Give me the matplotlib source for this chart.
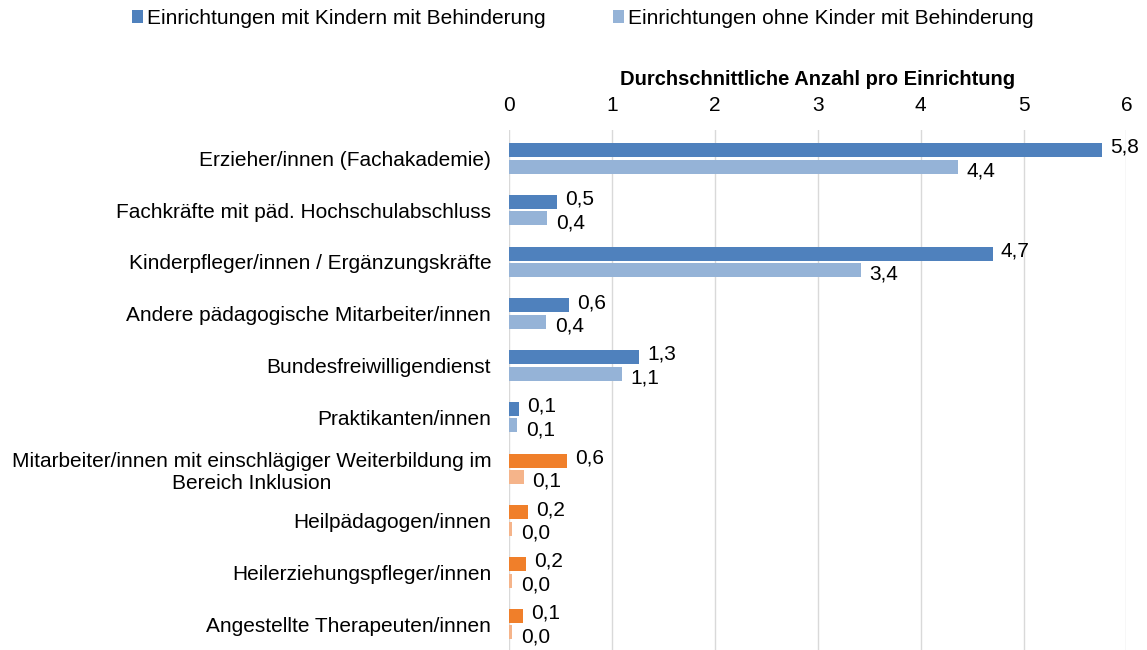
import numpy as np
import matplotlib
matplotlib.use("Agg")
import matplotlib.pyplot as plt

plt.rcParams['font.family'] = ['Liberation Sans', 'DejaVu Sans']

# ----- Daten -----
kategorien = [
    "Erzieher/innen (Fachakademie)",
    "Fachkräfte mit päd. Hochschulabschluss",
    "Kinderpfleger/innen / Ergänzungskräfte",
    "Andere pädagogische Mitarbeiter/innen",
    "Bundesfreiwilligendienst",
    "Praktikanten/innen",
    "Mitarbeiter/innen mit einschlägiger Weiterbildung im\nBereich Inklusion",
    "Heilpädagogen/innen",
    "Heilerziehungspfleger/innen",
    "Angestellte Therapeuten/innen",
]
mit_behinderung = [5.76, 0.46, 4.70, 0.58, 1.26, 0.09, 0.56, 0.18, 0.16, 0.13]
ohne_behinderung = [4.36, 0.37, 3.42, 0.36, 1.10, 0.08, 0.14, 0.03, 0.03, 0.03]
anzahl_blau = 6  # die ersten 6 Kategorien blau, der Rest orange

serien_namen = ["Einrichtungen mit Kindern mit Behinderung",
                "Einrichtungen ohne Kinder mit Behinderung"]
x_ticks = [0, 1, 2, 3, 4, 5, 6]
x_titel = "Durchschnittliche Anzahl pro Einrichtung"

# ----- Farben -----
blau_dunkel = "#4F81BD"
blau_hell = "#95B3D7"
orange_dunkel = "#F07F2A"
orange_hell = "#F5B48A"

farben_mit = [blau_dunkel if i < anzahl_blau else orange_dunkel for i in range(len(kategorien))]
farben_ohne = [blau_hell if i < anzahl_blau else orange_hell for i in range(len(kategorien))]


def fmt(v):
    return ("%.1f" % v).replace(".", ",")


fs = 15
fig = plt.figure(figsize=(11.47, 6.5), dpi=100)
ax = fig.add_axes([0.444, 0.0, 0.538, 0.80])

y = np.arange(len(kategorien))
h = 0.27
off = 0.16

b1 = ax.barh(y - off, mit_behinderung, height=h, color=farben_mit, label=serien_namen[0], zorder=3)
b2 = ax.barh(y + off, ohne_behinderung, height=h, color=farben_ohne, label=serien_namen[1], zorder=3)

for rect, v in zip(b1, mit_behinderung):
    ax.annotate(fmt(v), (rect.get_width(), rect.get_y() + rect.get_height() / 2),
                xytext=(6, 2), textcoords="offset points", va="center", ha="left", fontsize=fs)
for rect, v in zip(b2, ohne_behinderung):
    ax.annotate(fmt(v), (rect.get_width(), rect.get_y() + rect.get_height() / 2),
                xytext=(6, -3), textcoords="offset points", va="center", ha="left", fontsize=fs)

ax.set_xlim(0, 6)
ax.set_ylim(9.5, -0.55)
ax.set_xticks(x_ticks)
ax.xaxis.tick_top()
ax.xaxis.set_label_position("top")
ax.set_xlabel(x_titel, fontsize=fs - 0.5, fontweight="bold", labelpad=8)
ax.tick_params(axis="x", length=0, labelsize=fs, pad=11)
ax.set_yticks(y)
ax.set_yticklabels(kategorien, fontsize=fs, multialignment="center")
ax.tick_params(axis="y", length=0, pad=13)
ax.grid(axis="x", color="#D9D9D9", linewidth=1, zorder=0)
for s in ax.spines.values():
    s.set_visible(False)

fig.legend(handles=[b1[0], b2[0]], labels=serien_namen, loc="upper center",
           bbox_to_anchor=(0.508, 1.015), ncol=2, frameon=False, fontsize=fs,
           handlelength=0.55, handleheight=0.55, handletextpad=0.2, columnspacing=3.2)

plt.savefig("out.png", dpi=100)
